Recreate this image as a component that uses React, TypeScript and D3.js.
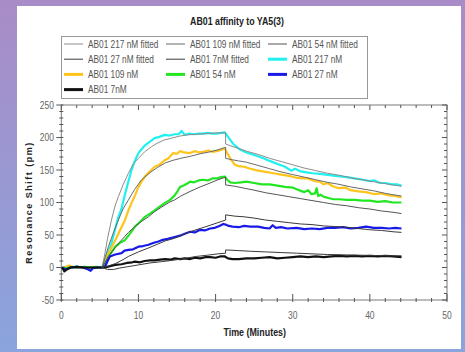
import * as d3 from 'd3';

type Pt = [number, number];

// measured data (time in minutes, shift in pm)
const data217: Pt[] = [
  [0.1, 0], [0.5, -2], [1, 1], [1.5, 0], [2, 2], [2.5, 0], [3, 1], [3.5, -1], [4, 0], [4.5, 1], [5, 0], [5.3, 0],
  [5.6, 10], [6, 22], [6.5, 37], [7, 60], [7.4, 78], [7.8, 90], [8.2, 110], [8.6, 128], [9.1, 150], [9.5, 163],
  [10, 176], [10.4, 182], [10.85, 188], [11.4, 193], [12.1, 199], [12.7, 201], [13.4, 204], [14, 203], [14.7, 205],
  [15.2, 205], [15.6, 210], [16, 204], [16.6, 206], [17.2, 205], [17.8, 206], [18.4, 206], [19, 207], [19.6, 206],
  [20.1, 206], [20.7, 207], [21.2, 208],
  [21.5, 203], [21.85, 197], [22.3, 190], [23.1, 182], [24, 177], [25, 173], [26.2, 168], [27, 164], [28.3, 158],
  [29, 155], [29.8, 149], [30.3, 152], [31, 148], [32, 146], [32.6, 145], [33.5, 144], [34.8, 142], [35.5, 141],
  [36.2, 140], [37, 139], [38, 137], [39.1, 135], [40, 133], [40.6, 134], [41.3, 130], [42, 130], [42.8, 128],
  [43.5, 128], [44.1, 126],
];

const data109: Pt[] = [
  [0.1, 0], [0.6, 1], [1, 3], [1.6, 0], [2.2, 1], [2.8, -1], [3.4, 0], [4, 1], [4.6, 0], [5.3, 0],
  [5.7, 11], [6.2, 24], [7, 42], [7.6, 57], [8.25, 73], [8.7, 88], [9.1, 99], [9.6, 112], [10, 124], [10.4, 132],
  [10.85, 140], [11.4, 147], [12.1, 155], [12.7, 158], [13.4, 165], [13.9, 168], [14.5, 176], [15, 175], [15.4, 179],
  [15.9, 177], [16.7, 176], [17.3, 179], [17.9, 177], [18.4, 178], [19, 180], [19.6, 178], [20.1, 179], [20.7, 181],
  [21.2, 183],
  [21.5, 176], [22, 166], [22.5, 158], [23, 156], [23.7, 155], [24.5, 152], [25.5, 149], [26.5, 147], [27.5, 145],
  [28.5, 143], [29.5, 141], [30.5, 138], [31.5, 137], [32, 137], [32.8, 133], [33.5, 132], [34, 128], [34.5, 130],
  [35.2, 125], [36, 122], [36.8, 123], [37.5, 119], [38.5, 117], [39.5, 116], [40.5, 113], [41.5, 114], [42.5, 111],
  [43.3, 110], [44.1, 108],
];

const data54: Pt[] = [
  [0.1, 0], [0.8, -1], [1.5, 1], [2.2, 0], [3, 1], [3.8, 0], [4.6, 1], [5.3, 0],
  [5.7, 6], [6.2, 18], [7, 32], [7.6, 38], [8.25, 42], [8.9, 52], [9.55, 63], [10.2, 70], [10.85, 78], [11.5, 83],
  [12.1, 88], [12.8, 94], [13.4, 99], [14.1, 104], [14.7, 111], [15.1, 118], [15.4, 124], [16, 127], [16.7, 132],
  [17.2, 131], [17.8, 134], [18.4, 135], [19, 134], [19.6, 137], [20.1, 137], [20.7, 139], [21.2, 140],
  [21.5, 135], [21.9, 131], [22.5, 130], [23.3, 131], [24, 132], [25, 130], [26, 128], [27, 128], [28, 126],
  [29, 124], [30, 123], [30.8, 119], [31.5, 116], [32, 119], [32.4, 113], [32.9, 114], [33.1, 122], [33.3, 110],
  [33.6, 112], [34, 109], [34.6, 107], [35.3, 105], [36, 105], [37, 104], [38, 104], [39, 103], [40, 103],
  [41, 101], [42, 102], [43, 100], [44.1, 100],
];

const data27: Pt[] = [
  [0.1, 0], [0.6, -3], [1.2, 0], [2, 1], [2.8, 0], [3.5, -3], [3.8, -5], [4.1, -1], [4.8, 0], [5.3, 0],
  [5.7, 2], [6, 10], [6.3, 17], [7, 20], [7.8, 22], [8.2, 26], [8.7, 27], [9.3, 28], [10, 32], [10.6, 33],
  [11.3, 35], [12, 38], [12.6, 40], [13, 42], [13.8, 44], [14.7, 47], [15.4, 49], [16, 52], [16.7, 55], [17.3, 54],
  [18, 58], [18.6, 57], [19.3, 60], [19.9, 61], [20.5, 64], [21, 67], [21.3, 66],
  [21.7, 64], [22.2, 63], [23, 62], [23.7, 64], [24.5, 63], [25.5, 63], [26.3, 61], [27, 60], [27.4, 65],
  [27.8, 61], [28.5, 62], [29.3, 60], [30.5, 61], [31.5, 59], [32.5, 60], [33.5, 59], [34.5, 61], [35.5, 61],
  [36.5, 62], [37.5, 60], [38.5, 61], [39.5, 63], [40.5, 61], [41.5, 61], [42.5, 60], [43.3, 61], [44.1, 60],
];

const data7: Pt[] = [
  [0.1, 0], [0.4, -6], [0.7, -3], [1.2, 0], [2, 1], [3, 0], [4, 0], [5.3, 0],
  [5.7, 0], [6.3, 2], [7, 4], [7.8, 5], [8.5, 7], [9.2, 8], [9.55, 9], [10.2, 8], [10.8, 10], [11.5, 11],
  [12.1, 11], [12.8, 12], [13.5, 13], [14.1, 12], [14.7, 14], [15.4, 13], [16, 14], [16.7, 13], [17.3, 15],
  [18, 14], [18.7, 16], [19.3, 16], [20, 15], [20.6, 17], [21.2, 17],
  [21.6, 14], [22.2, 13], [23, 13], [24, 14], [25, 14], [26, 15], [27, 16], [28, 14], [29, 15], [30, 16],
  [31, 17], [32, 16], [33, 17], [34, 16], [35, 17], [36, 18], [37, 17], [38, 18], [39, 17], [40, 18],
  [41, 17], [42, 18], [43, 17], [44.1, 16],
];

// fitted curves (association then dissociation, with the step at 21.3 min)
const fit217: Pt[] = [
  [5.3, 0], [5.66, 22], [6, 45], [6.5, 73], [7, 96], [7.4, 109], [8, 127], [8.7, 145], [9.35, 160], [10, 168],
  [10.8, 178], [11.7, 186], [12.4, 191], [13.3, 196], [14.3, 199], [15.3, 202], [16.3, 204], [17.5, 205],
  [18.7, 206], [20, 207], [21.3, 207],
  [21.3, 190], [22, 187], [23, 183], [24, 179], [25.5, 174], [27, 168], [28.5, 163], [30, 158], [31.5, 153],
  [33, 149], [34.5, 145], [36, 142], [37.5, 138], [39, 135], [40.5, 132], [42, 129], [43, 127], [44.1, 125],
];
const fit109: Pt[] = [
  [5.3, 0], [6.1, 32], [6.8, 55], [7.4, 73], [8, 90], [8.7, 104], [9.5, 120], [10.4, 135], [11.5, 146],
  [12.6, 155], [13.5, 161], [14.5, 165], [15.5, 168], [16.7, 171], [18, 175], [19.3, 178], [20.3, 181], [21.3, 185],
  [21.3, 168], [22, 166], [23, 164], [24, 162], [25.5, 157], [27, 152], [28.5, 147], [30, 143], [31.5, 139],
  [33, 135], [34.5, 131], [36, 128], [37.5, 124], [39, 121], [40.5, 118], [42, 114], [43, 112], [44.1, 110],
];
const fit54: Pt[] = [
  [5.3, 0], [6.1, 17], [7, 31], [7.8, 42], [8.7, 54], [9.55, 63], [10.4, 71], [11.3, 78], [12.1, 86], [13, 93],
  [14.1, 101], [14.7, 104], [15.5, 110], [16.7, 117], [18, 124], [19.3, 130], [20.3, 135], [21.3, 139],
  [21.3, 127], [22.5, 125], [23.7, 122], [25, 119], [26.5, 115], [28, 112], [29.5, 109], [31, 106], [32.5, 103],
  [34, 100], [35.5, 97], [37, 95], [38.5, 92], [40, 90], [41.5, 87], [43, 85], [44.1, 83],
];
const fit27: Pt[] = [
  [5.3, 0], [6, 2], [7, 6], [8, 12], [8.7, 17], [10, 24], [11.3, 30], [12.5, 36], [13.5, 41], [14.7, 45],
  [15.7, 50], [16.7, 55], [18, 60], [19.3, 65], [20.3, 69], [21.3, 73],
  [21.3, 81], [22.5, 79], [23.7, 78], [25, 76], [26.5, 73], [28, 71], [29.5, 69], [31, 67], [32.5, 66],
  [34, 64], [35.5, 63], [37, 62], [38.5, 60], [40, 58], [41.5, 57], [43, 55], [44.1, 54],
];
const fit7: Pt[] = [
  [5.3, 0], [6, -3], [6.8, -3], [7.5, -1], [8.5, 1], [10, 4], [11.5, 7], [13, 9], [14.7, 11.5], [16, 14],
  [17.5, 17], [19, 19], [20.3, 21], [21.3, 22],
  [21.3, 27], [23, 26], [24.5, 25], [26.5, 24], [28.5, 23], [30.5, 22], [32.5, 21], [34.5, 20], [36.5, 19.5],
  [38.5, 19], [40.5, 18.5], [42.5, 18], [44.1, 18],
];

const xTicks = [0, 10, 20, 30, 40, 50];
const yTicks = [-50, 0, 50, 100, 150, 200, 250];

const dataSeries = [
  { name: 'AB01 217 nM', color: '#1ff0f0', pts: data217 },
  { name: 'AB01 109 nM', color: '#ffc41c', pts: data109 },
  { name: 'AB01 54 nM', color: '#22e622', pts: data54 },
  { name: 'AB01 27 nM', color: '#1a1ae8', pts: data27 },
  { name: 'AB01 7nM', color: '#111111', pts: data7 },
];
const fitSeries = [
  { name: 'AB01 217 nM fitted', color: '#8c8c8c', pts: fit217 },
  { name: 'AB01 109 nM fitted', color: '#6a6a6a', pts: fit109 },
  { name: 'AB01 54 nM fitted', color: '#555555', pts: fit54 },
  { name: 'AB01 27 nM fitted', color: '#3a3a3a', pts: fit27 },
  { name: 'AB01 7nM fitted', color: '#3a3a3a', pts: fit7 },
];

const W = 465;
const H = 352;
const PLOT = { left: 61.3, right: 447, top: 105, bottom: 300 };
const FONT = '"Liberation Sans", Arial, sans-serif';

export default function App() {
  const x = d3.scaleLinear().domain([0, 50]).range([PLOT.left, PLOT.right]);
  const y = d3.scaleLinear().domain([-50, 250]).range([PLOT.bottom, PLOT.top]);
  const line = d3.line<Pt>().x((d) => x(d[0])).y((d) => y(d[1]));

  const xMinor = d3.range(0, 50.01, 2);
  const yMinor = d3.range(-50, 250.01, 10);

  const legendItems = [
    ...fitSeries.map((s) => ({ ...s, thick: false })),
    ...dataSeries.map((s) => ({ ...s, thick: true })),
  ];

  return (
    <svg
      width={W}
      height={H}
      style={{ position: 'absolute', left: 0, top: 0 }}
      fontFamily={FONT}
    >
      <defs>
        <linearGradient id="bg" x1="0" y1="0" x2="0" y2="1">
          <stop offset="0" stopColor="#a98cc7" />
          <stop offset="1" stopColor="#8aa4dd" />
        </linearGradient>
      </defs>
      <rect width={W} height={H} fill="url(#bg)" />
      <rect x={17} y={6} width={444} height={343} fill="#ffffff" />

      {/* title */}
      <g transform="translate(237,25) scale(0.8,1)">
        <text textAnchor="middle" fontSize={11} fontWeight="bold" fill="#222">
          AB01 affinity to YA5(3)
        </text>
      </g>

      {/* legend */}
      <rect x={61.5} y={36.5} width={306} height={62} fill="#fff" stroke="#999" />
      {legendItems.map((s, i) => {
        const col = i % 3;
        const row = Math.floor(i / 3);
        const lx = 64 + col * 102;
        const ly = 44 + row * 15.2;
        return (
          <g key={s.name}>
            <line
              x1={lx}
              x2={lx + 19}
              y1={ly}
              y2={ly}
              stroke={s.color}
              strokeWidth={s.thick ? 3 : 1}
            />
            <g transform={`translate(${lx + 24},${ly + 3.5}) scale(0.83,1)`}>
              <text fontSize={10} fill="#555">
                {s.name}
              </text>
            </g>
          </g>
        );
      })}

      {/* frame */}
      <rect
        x={PLOT.left}
        y={PLOT.top}
        width={PLOT.right - PLOT.left}
        height={PLOT.bottom - PLOT.top}
        fill="none"
        stroke="#7a7a7a"
      />

      {/* x ticks: bottom & top */}
      {xMinor.map((t) => {
        const major = t % 10 === 0;
        return (
          <g key={`xt${t}`} stroke="#555" strokeWidth={1}>
            <line x1={x(t)} x2={x(t)} y1={PLOT.bottom + 2} y2={PLOT.bottom - (major ? 6 : 2)} />
            <line x1={x(t)} x2={x(t)} y1={PLOT.top} y2={PLOT.top + (major ? 5 : 3)} />
          </g>
        );
      })}
      {/* y ticks: left & right */}
      {yMinor.map((v) => {
        const major = v % 50 === 0;
        return (
          <g key={`yt${v}`} stroke="#555" strokeWidth={1}>
            <line x1={PLOT.left - (major ? 5 : 2)} x2={PLOT.left + 2} y1={y(v)} y2={y(v)} />
            <line x1={PLOT.right} x2={PLOT.right - (major ? 5 : 3)} y1={y(v)} y2={y(v)} />
          </g>
        );
      })}

      {xTicks.map((t) => (
        <g key={`xl${t}`} transform={`translate(${x(t)},319) scale(0.85,1)`}>
          <text textAnchor="middle" fontSize={10} fill="#666">
            {t}
          </text>
        </g>
      ))}
      {yTicks.map((v) => (
        <g key={`yl${v}`} transform={`translate(54,${y(v) + 3.5}) scale(0.85,1)`}>
          <text textAnchor="end" fontSize={10} fill="#666">
            {v}
          </text>
        </g>
      ))}

      {/* axis labels */}
      <g transform={`translate(254.7,336) scale(0.89,1)`}>
        <text textAnchor="middle" fontSize={10} fontWeight="bold" fill="#222">
          Time (Minutes)
        </text>
      </g>
      <text
        transform={`translate(32,${(PLOT.top + PLOT.bottom) / 2}) rotate(-90)`}
        textAnchor="middle"
        fontSize={9}
        fontWeight="bold"
        letterSpacing={1.5}
        fill="#222"
      >
        Resonance Shift (pm)
      </text>

      {/* data */}
      {dataSeries.map((s) => (
        <path
          key={s.name}
          d={line(s.pts) ?? ''}
          fill="none"
          stroke={s.color}
          strokeWidth={2.2}
          strokeLinejoin="round"
        />
      ))}
      {fitSeries.map((s) => (
        <path key={s.name} d={line(s.pts) ?? ''} fill="none" stroke={s.color} strokeWidth={1} />
      ))}
    </svg>
  );
}
